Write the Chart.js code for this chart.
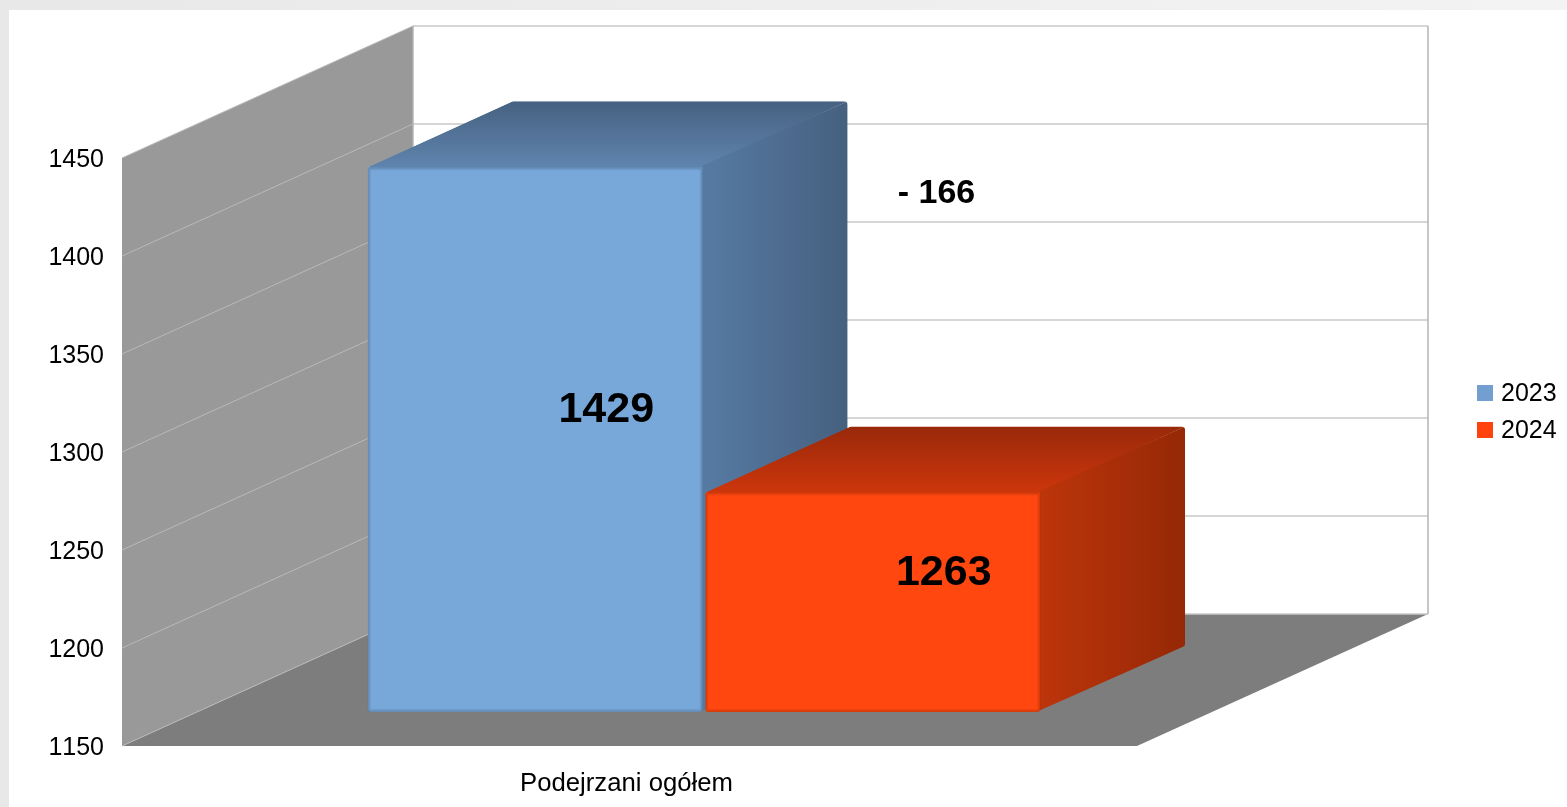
<!DOCTYPE html>
<html lang="en">
    <head>
        <meta charset="UTF-8" />
        <title>Podejrzani ogółem</title>
        <script src="https://cdn.jsdelivr.net/npm/chart.js"></script>
        <style>
            html, body {
                margin: 0;
                height: 100%;
                overflow: hidden;
                background: linear-gradient(90deg, #e8e8e8, #f3f3f3);
            }
            #panel {
                position: absolute;
                left: 9px;
                top: 10px;
                right: 0;
                bottom: 0;
                background: #fff;
            }
            canvas {
                position: absolute;
                left: 0;
                top: 0;
            }
        </style>
    </head>
    <body>
        <div id="panel"></div>
        <canvas id="chart" width="1567" height="807"></canvas>

        <script>
            const categories = ["Podejrzani ogółem"]
            const years = ["2023", "2024"]
            const values2023 = [1429]
            const values2024 = [1263]
            const differenceLabel = "- 166"
            const axisMin = 1150
            const axisMax = 1450
            const axisStep = 50

            const FONT = '"Liberation Sans", Arial, sans-serif'

            // oblique depth of the whole box and of the bars inside it
            const WALL_DX = 291
            const WALL_DY = -132
            const BAR_SHIFT_X = 74.5
            const BAR_SHIFT_Y = -34
            const BAR_DX = 145
            const BAR_DY = -66
            const TOP_INSET = 2

            const themes = [
                { front: "#78a7da", legend: "#729fcf", topBack: "#466180", topFront: "#5f84ae", sideFront: "#567ba3", sideBack: "#46607f" },
                { front: "#ff470f", legend: "#ff420e", topBack: "#99290a", topFront: "#cd360c", sideFront: "#bd350b", sideBack: "#952806" },
            ]

            function polygon(ctx, pts, color) {
                ctx.beginPath()
                pts.forEach((p, i) => (i ? ctx.lineTo(p[0], p[1]) : ctx.moveTo(p[0], p[1])))
                ctx.closePath()
                ctx.fillStyle = color
                ctx.fill()
            }

            function roundedPath(ctx, pts, r) {
                ctx.beginPath()
                const n = pts.length
                ctx.moveTo((pts[0][0] + pts[1][0]) / 2, (pts[0][1] + pts[1][1]) / 2)
                for (let i = 1; i <= n; i++) {
                    const a = pts[i % n]
                    const b = pts[(i + 1) % n]
                    ctx.arcTo(a[0], a[1], (a[0] + b[0]) / 2, (a[1] + b[1]) / 2, r)
                }
                ctx.closePath()
            }

            function line(ctx, x1, y1, x2, y2, color, width) {
                ctx.beginPath()
                ctx.moveTo(x1, y1)
                ctx.lineTo(x2, y2)
                ctx.strokeStyle = color
                ctx.lineWidth = width
                ctx.stroke()
            }

            function frontBox(el) {
                return {
                    left: el.x - el.width / 2 + BAR_SHIFT_X,
                    right: el.x + el.width / 2 + BAR_SHIFT_X,
                    top: el.y + TOP_INSET + BAR_SHIFT_Y,
                    bottom: el.base + BAR_SHIFT_Y,
                }
            }

            function drawWalls(chart) {
                const ctx = chart.ctx
                const { left, right, top, bottom } = chart.chartArea
                polygon(ctx, [[left + WALL_DX, top + WALL_DY], [right + WALL_DX, top + WALL_DY], [right + WALL_DX, bottom + WALL_DY], [left + WALL_DX, bottom + WALL_DY]], "#ffffff")
                polygon(ctx, [[left, top], [left + WALL_DX, top + WALL_DY], [left + WALL_DX, bottom + WALL_DY], [left, bottom]], "#999999")
                polygon(ctx, [[left, bottom], [right, bottom], [right + WALL_DX, bottom + WALL_DY], [left + WALL_DX, bottom + WALL_DY]], "#7d7d7d")
                chart.scales.y.ticks.forEach((tick) => {
                    const y = chart.scales.y.getPixelForValue(tick.value)
                    line(ctx, left, y, left + WALL_DX, y + WALL_DY, "#b9b9b9", 1)
                    line(ctx, left + WALL_DX, y + WALL_DY, right + WALL_DX, y + WALL_DY, "#c8c8c8", 1.5)
                })
                line(ctx, left + WALL_DX, top + WALL_DY, left + WALL_DX, bottom + WALL_DY, "#b3b3b3", 1.5)
                line(ctx, right + WALL_DX, top + WALL_DY, right + WALL_DX, bottom + WALL_DY, "#b3b3b3", 1.5)
            }

            function drawBar(chart, index) {
                const ctx = chart.ctx
                const meta = chart.getDatasetMeta(index)
                const theme = themes[index]
                const b = frontBox(meta.data[0])
                const hull = [
                    [b.left, b.top],
                    [b.left + BAR_DX, b.top + BAR_DY],
                    [b.right + BAR_DX, b.top + BAR_DY],
                    [b.right + BAR_DX, b.bottom + BAR_DY],
                    [b.right, b.bottom],
                    [b.left, b.bottom],
                ]
                ctx.save()
                roundedPath(ctx, hull, 4)
                ctx.clip()
                const topFill = ctx.createLinearGradient(0, b.top + BAR_DY, 0, b.top)
                topFill.addColorStop(0, theme.topBack)
                topFill.addColorStop(1, theme.topFront)
                // runs a little under the front face so no seam shows at the rounded corners
                polygon(ctx, [[b.left, b.top + 4], hull[0], hull[1], hull[2], [b.right, b.top], [b.right, b.top + 4]], topFill)
                const sideFill = ctx.createLinearGradient(b.right, 0, b.right + BAR_DX, 0)
                sideFill.addColorStop(0, theme.sideFront)
                sideFill.addColorStop(1, theme.sideBack)
                polygon(ctx, [[b.right - 4, b.top], hull[2], hull[3], [b.right - 4, b.bottom]], sideFill)
                ctx.restore()

                // the front face is the library's own bar, pushed into the box
                ctx.save()
                ctx.translate(BAR_SHIFT_X, BAR_SHIFT_Y)
                meta.controller.draw()
                ctx.restore()

                // soft bevel on the front face
                ctx.save()
                ctx.beginPath()
                ctx.roundRect(b.left, b.top, b.right - b.left, b.bottom - b.top, 3)
                ctx.clip()
                ctx.strokeStyle = "rgba(0,0,0,0.07)"
                ctx.lineWidth = 6
                ctx.stroke()
                ctx.strokeStyle = "rgba(0,0,0,0.09)"
                ctx.lineWidth = 3
                ctx.stroke()
                ctx.restore()
            }

            const box3d = {
                id: "box3d",
                beforeDraw(chart) {
                    chart.ctx.fontKerning = "none"
                },
                // 2024 has to land on top of 2023, so the bars are drawn here in dataset order
                beforeDatasetsDraw(chart) {
                    drawWalls(chart)
                    chart.data.datasets.forEach((ds, i) => drawBar(chart, i))
                    return false
                },
                afterDraw(chart) {
                    const ctx = chart.ctx
                    ctx.textAlign = "center"
                    ctx.textBaseline = "middle"
                    ctx.fillStyle = "#000"
                    ctx.font = "bold 43px " + FONT
                    chart.data.datasets.forEach((ds, i) => {
                        const b = frontBox(chart.getDatasetMeta(i).data[0])
                        ctx.fillText(ds.data[0], (b.left + b.right + BAR_DX) / 2 - 1.5, (b.top + b.bottom + BAR_DY) / 2 + 4)
                    })
                    ctx.font = "bold 34px " + FONT
                    ctx.fillText(differenceLabel, 936.5, 194)

                    // legend
                    ctx.textAlign = "left"
                    ctx.font = "25px " + FONT
                    chart.data.datasets.forEach((ds, i) => {
                        const y = 385 + i * 37
                        ctx.fillStyle = themes[i].legend
                        ctx.fillRect(1477, y, 16, 16)
                        ctx.fillStyle = "#000"
                        ctx.fillText(ds.label, 1501, y + 9)
                    })
                },
            }

            new Chart(document.getElementById("chart"), {
                type: "bar",
                data: {
                    labels: categories,
                    datasets: [
                        { label: years[0], data: values2023, backgroundColor: themes[0].front },
                        { label: years[1], data: values2024, backgroundColor: themes[1].front },
                    ],
                },
                options: {
                    responsive: false,
                    animation: false,
                    clip: false,
                    layout: {
                        autoPadding: false,
                        padding: { left: 0, top: 158, right: 430, bottom: 0 },
                    },
                    datasets: {
                        bar: {
                            base: axisMin,
                            categoryPercentage: 0.665,
                            barPercentage: 0.992,
                            borderWidth: { top: TOP_INSET, left: 0, right: 0, bottom: 0 },
                            borderColor: "transparent",
                            borderSkipped: false,
                            borderRadius: 3,
                        },
                    },
                    plugins: {
                        legend: { display: false },
                        title: { display: false },
                        tooltip: { enabled: false },
                    },
                    scales: {
                        x: {
                            grid: { display: false },
                            border: { display: false },
                            afterFit: (scale) => { scale.height = 61 },
                            ticks: {
                                color: "#000",
                                font: { family: FONT, size: 25.7 },
                                padding: 14,
                                labelOffset: -3,
                                maxRotation: 0,
                            },
                        },
                        y: {
                            min: axisMin,
                            max: axisMax,
                            grid: { display: false },
                            border: { display: false },
                            afterFit: (scale) => { scale.width = 122 },
                            ticks: {
                                stepSize: axisStep,
                                color: "#000",
                                font: { family: FONT, size: 25, lineHeight: 0.2 },
                                padding: 10,
                                // empty first line nudges the number down, the labels sit low in the original
                                callback: (value) => ["", String(value)],
                            },
                        },
                    },
                },
                plugins: [box3d],
            })
        </script>
    </body>
</html>
